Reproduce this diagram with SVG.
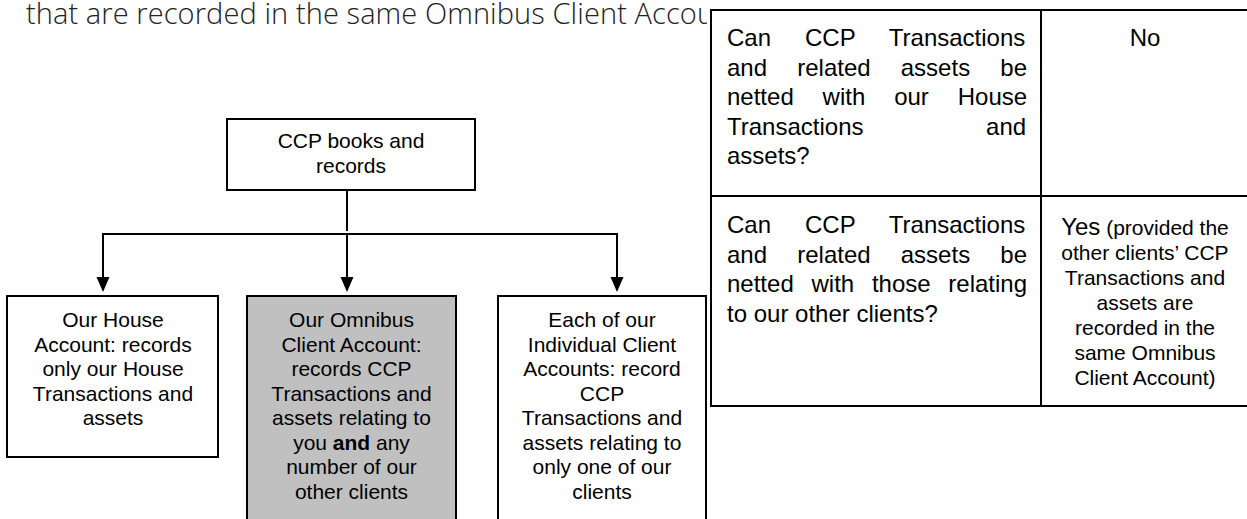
<svg xmlns="http://www.w3.org/2000/svg" width="1247" height="519" viewBox="0 0 1247 519">
<style>
.box{fill:#fff;stroke:#000;stroke-width:2}
.gray{fill:#c0c0c0}
.t{font-family:"Liberation Sans",Arial,sans-serif;font-size:21px;fill:#000;text-anchor:middle}
.tl{font-family:"Liberation Sans",Arial,sans-serif;font-size:24px;fill:#000;text-anchor:start}
.tc{font-family:"Liberation Sans",Arial,sans-serif;font-size:24px;fill:#000;text-anchor:middle}
.conn{stroke:#000;stroke-width:2;fill:none}
.tb{stroke:#000;stroke-width:2;fill:none}
.top{font-family:"Open Sans","Liberation Sans",sans-serif;font-weight:300;font-size:29px;fill:#222}
</style>
<defs>
<marker id="arr" markerUnits="userSpaceOnUse" markerWidth="16" markerHeight="14" refX="8" refY="6.5" orient="auto">
<path d="M0,0 L15,6.5 L0,13 z" fill="#000"/>
</marker>
</defs>
<rect width="1247" height="519" fill="#fff"/>
<text class="top" x="26" y="24" textLength="688" lengthAdjust="spacing">that are recorded in the same Omnibus Client Accou</text>

<g id="connectors">
<line class="conn" x1="347" y1="190" x2="347" y2="231"/>
<line class="conn" x1="103" y1="234" x2="617" y2="234"/>
<line class="conn" x1="103" y1="233" x2="103" y2="285" marker-end="url(#arr)"/>
<line class="conn" x1="347" y1="234" x2="347" y2="285" marker-end="url(#arr)"/>
<line class="conn" x1="617" y1="233" x2="617" y2="285" marker-end="url(#arr)"/>
</g>

<g id="ccp">
<rect class="box" x="227" y="119" width="248" height="71"/>
<text class="t" x="351" y="148">CCP books and</text>
<text class="t" x="351" y="173">records</text>
</g>

<g id="house">
<rect class="box" x="7" y="296" width="211" height="161"/>
<text class="t" x="113" y="327">Our House</text>
<text class="t" x="113" y="351.5">Account: records</text>
<text class="t" x="113" y="376">only our House</text>
<text class="t" x="113" y="400.5">Transactions and</text>
<text class="t" x="113" y="425">assets</text>
</g>

<g id="omnibus">
<rect class="box gray" x="247" y="296" width="209" height="240"/>
<text class="t" x="351.5" y="327">Our Omnibus</text>
<text class="t" x="351.5" y="351.5">Client Account:</text>
<text class="t" x="351.5" y="376">records CCP</text>
<text class="t" x="351.5" y="400.5">Transactions and</text>
<text class="t" x="351.5" y="425">assets relating to</text>
<text class="t" x="351.5" y="449.5">you <tspan font-weight="bold">and</tspan> any</text>
<text class="t" x="351.5" y="474">number of our</text>
<text class="t" x="351.5" y="498.5">other clients</text>
</g>

<g id="individual">
<rect class="box" x="498" y="296" width="208" height="240"/>
<text class="t" x="602" y="327">Each of our</text>
<text class="t" x="602" y="351.5">Individual Client</text>
<text class="t" x="602" y="376">Accounts: record</text>
<text class="t" x="602" y="400.5">CCP</text>
<text class="t" x="602" y="425">Transactions and</text>
<text class="t" x="602" y="449.5">assets relating to</text>
<text class="t" x="602" y="474">only one of our</text>
<text class="t" x="602" y="498.5">clients</text>
</g>

<g id="table">
<rect x="707" y="0" width="545" height="419" fill="#fff"/>
<rect class="tb" x="711" y="10" width="544" height="396"/>
<line class="tb" x1="1041" y1="10" x2="1041" y2="406"/>
<line class="tb" x1="711" y1="196" x2="1255" y2="196"/>
<text class="tl" x="727" y="46" word-spacing="27.3">Can CCP Transactions</text>
<text class="tl" x="727" y="75.5" word-spacing="23.5">and related assets be</text>
<text class="tl" x="727" y="105" word-spacing="22.2">netted with our House</text>
<text class="tl" x="727" y="134.5" word-spacing="115.9">Transactions and</text>
<text class="tl" x="727" y="164">assets?</text>
<text class="tc" x="1145" y="46">No</text>
<text class="tl" x="727" y="233" word-spacing="27.3">Can CCP Transactions</text>
<text class="tl" x="727" y="262.5" word-spacing="23.5">and related assets be</text>
<text class="tl" x="727" y="292" word-spacing="11.07">netted with those relating</text>
<text class="tl" x="727" y="321.5">to our other clients?</text>
<text class="t" x="1145" y="235"><tspan font-size="24px">Yes</tspan> (provided the</text>
<text class="t" x="1145" y="260">other clients’ CCP</text>
<text class="t" x="1145" y="285">Transactions and</text>
<text class="t" x="1145" y="310">assets are</text>
<text class="t" x="1145" y="335">recorded in the</text>
<text class="t" x="1145" y="360">same Omnibus</text>
<text class="t" x="1145" y="385">Client Account)</text>
</g>
</svg>
